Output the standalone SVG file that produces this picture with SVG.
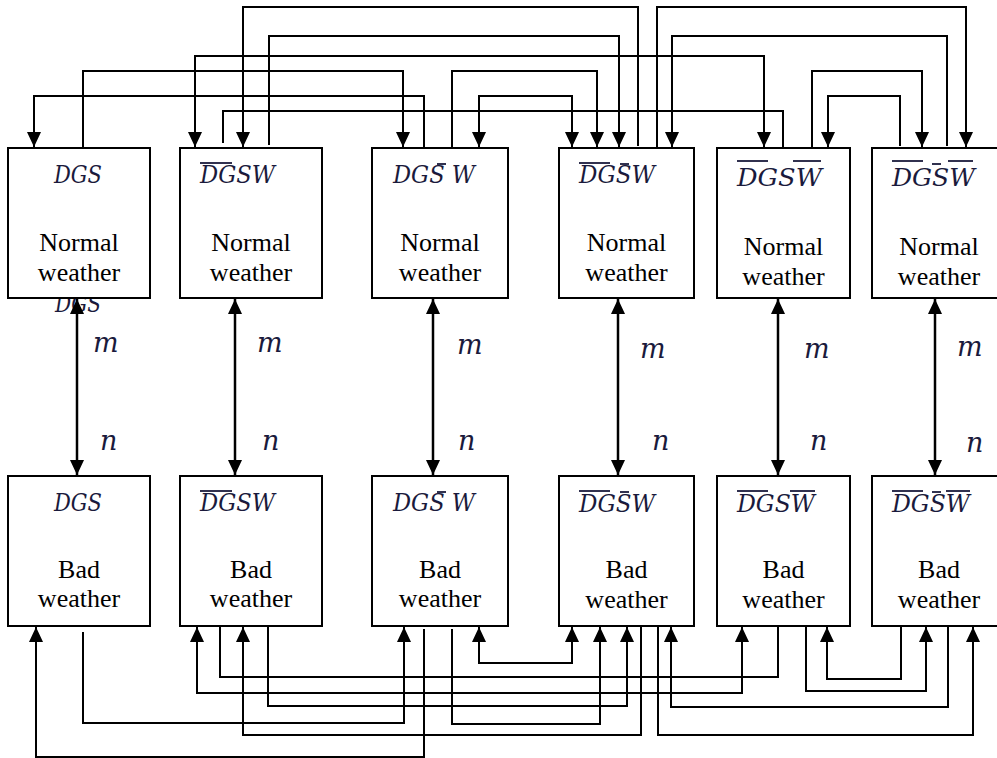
<svg xmlns="http://www.w3.org/2000/svg" width="997" height="758" viewBox="0 0 997 758">
<style>
.box{fill:#fff;stroke:#000;stroke-width:2}
.lbl{font-family:"Liberation Serif","Times New Roman",serif;font-size:26px;fill:#000;text-anchor:middle}
.math{font-family:"DejaVu Serif",serif;font-style:italic;font-size:24px;fill:#1a1a3c}
.mn{font-family:"DejaVu Serif",serif;font-style:italic;font-size:27px;fill:#1a1a3c}
.ov{stroke:#1a1a3c;stroke-width:1.8}
.c{fill:none;stroke:#000;stroke-width:2}
.v{fill:none;stroke:#000;stroke-width:2.5}
</style>
<defs>
<marker id="ah" viewBox="0 0 15 14" refX="15" refY="7" markerWidth="15" markerHeight="14" markerUnits="userSpaceOnUse" orient="auto-start-reverse">
<path d="M0,0 L15,7 L0,14 z" fill="#000"/>
</marker>
</defs>
<rect width="997" height="758" fill="#fff"/>
<text class="math" x="55" y="312" textLength="46" lengthAdjust="spacingAndGlyphs">DGS</text>
<g id="n1"><rect class="box" x="8" y="148" width="142" height="150"/>
<text class="math" x="54" y="183" textLength="48" lengthAdjust="spacingAndGlyphs">DGS</text>
<text class="lbl" x="79" y="251">Normal</text><text class="lbl" x="79" y="281">weather</text></g>
<g id="n2"><rect class="box" x="180" y="148" width="142" height="150"/>
<text class="math" x="200" y="183" textLength="75" lengthAdjust="spacingAndGlyphs">DGSW</text>
<line class="ov" x1="200" y1="163" x2="232" y2="163"/>
<text class="lbl" x="251" y="251">Normal</text><text class="lbl" x="251" y="281">weather</text></g>
<g id="n3"><rect class="box" x="372" y="148" width="136" height="150"/>
<text class="math" x="393" y="183" textLength="82" lengthAdjust="spacingAndGlyphs">DGS W</text>
<line class="ov" x1="437" y1="164" x2="446" y2="164"/>
<text class="lbl" x="440" y="251">Normal</text><text class="lbl" x="440" y="281">weather</text></g>
<g id="n4"><rect class="box" x="559" y="148" width="135" height="150"/>
<text class="math" x="579" y="183" textLength="76" lengthAdjust="spacingAndGlyphs">DGSW</text>
<line class="ov" x1="579" y1="163" x2="610" y2="163"/><line class="ov" x1="620" y1="164" x2="629" y2="164"/>
<text class="lbl" x="626.5" y="251">Normal</text><text class="lbl" x="626.5" y="281">weather</text></g>
<g id="n5"><rect class="box" x="717" y="148" width="133" height="150"/>
<text class="math" x="737" y="186" textLength="85" lengthAdjust="spacingAndGlyphs">DGSW</text>
<line class="ov" x1="737" y1="161" x2="768" y2="161"/><line class="ov" x1="793" y1="161" x2="821" y2="161"/>
<text class="lbl" x="783.5" y="255">Normal</text><text class="lbl" x="783.5" y="285">weather</text></g>
<g id="n6"><rect class="box" x="872" y="148" width="134" height="150"/>
<text class="math" x="892" y="186" textLength="83" lengthAdjust="spacingAndGlyphs">DGSW</text>
<line class="ov" x1="892" y1="161" x2="923" y2="161"/><line class="ov" x1="932" y1="164" x2="941" y2="164"/><line class="ov" x1="948" y1="161" x2="973" y2="161"/>
<text class="lbl" x="939" y="255">Normal</text><text class="lbl" x="939" y="285">weather</text></g>
<g id="b1"><rect class="box" x="8" y="476" width="142" height="150"/>
<text class="math" x="54" y="511" textLength="48" lengthAdjust="spacingAndGlyphs">DGS</text>
<text class="lbl" x="79" y="578">Bad</text><text class="lbl" x="79" y="607">weather</text></g>
<g id="b2"><rect class="box" x="180" y="476" width="142" height="150"/>
<text class="math" x="200" y="511" textLength="75" lengthAdjust="spacingAndGlyphs">DGSW</text>
<line class="ov" x1="200" y1="491" x2="232" y2="491"/>
<text class="lbl" x="251" y="578">Bad</text><text class="lbl" x="251" y="607">weather</text></g>
<g id="b3"><rect class="box" x="372" y="476" width="136" height="150"/>
<text class="math" x="393" y="511" textLength="82" lengthAdjust="spacingAndGlyphs">DGS W</text>
<line class="ov" x1="437" y1="492" x2="446" y2="492"/>
<text class="lbl" x="440" y="578">Bad</text><text class="lbl" x="440" y="607">weather</text></g>
<g id="b4"><rect class="box" x="559" y="476" width="135" height="150"/>
<text class="math" x="579" y="512" textLength="76" lengthAdjust="spacingAndGlyphs">DGSW</text>
<line class="ov" x1="579" y1="491" x2="610" y2="491"/><line class="ov" x1="620" y1="492" x2="629" y2="492"/>
<text class="lbl" x="626.5" y="578">Bad</text><text class="lbl" x="626.5" y="608">weather</text></g>
<g id="b5"><rect class="box" x="717" y="476" width="133" height="150"/>
<text class="math" x="737" y="512" textLength="78" lengthAdjust="spacingAndGlyphs">DGSW</text>
<line class="ov" x1="737" y1="491" x2="768" y2="491"/><line class="ov" x1="790" y1="491" x2="815" y2="491"/>
<text class="lbl" x="783.5" y="578">Bad</text><text class="lbl" x="783.5" y="608">weather</text></g>
<g id="b6"><rect class="box" x="872" y="476" width="134" height="150"/>
<text class="math" x="892" y="512" textLength="78" lengthAdjust="spacingAndGlyphs">DGSW</text>
<line class="ov" x1="892" y1="491" x2="923" y2="491"/><line class="ov" x1="932" y1="492" x2="941" y2="492"/><line class="ov" x1="946" y1="491" x2="970" y2="491"/>
<text class="lbl" x="939" y="578">Bad</text><text class="lbl" x="939" y="608">weather</text></g>
<g id="rates">
<text class="mn" x="93" y="352">m</text><text class="mn" x="257" y="352">m</text><text class="mn" x="457" y="354">m</text>
<text class="mn" x="640" y="358">m</text><text class="mn" x="804" y="358">m</text><text class="mn" x="957" y="356">m</text>
<text class="mn" x="100" y="450">n</text><text class="mn" x="262" y="450">n</text><text class="mn" x="458" y="450">n</text>
<text class="mn" x="652" y="450">n</text><text class="mn" x="810" y="450">n</text><text class="mn" x="966" y="452">n</text>
</g>
<g id="connectors">
<path class="v" d="M77,299V475" marker-start="url(#ah)" marker-end="url(#ah)"/>
<path class="v" d="M235,299V475" marker-start="url(#ah)" marker-end="url(#ah)"/>
<path class="v" d="M433,299V475" marker-start="url(#ah)" marker-end="url(#ah)"/>
<path class="v" d="M618,299V475" marker-start="url(#ah)" marker-end="url(#ah)"/>
<path class="v" d="M778,299V475" marker-start="url(#ah)" marker-end="url(#ah)"/>
<path class="v" d="M935,299V475" marker-start="url(#ah)" marker-end="url(#ah)"/>
<path class="c" d="M638,146V7H243V147" marker-end="url(#ah)"/>
<path class="c" d="M269,145V36H619V147" marker-end="url(#ah)"/>
<path class="c" d="M195,147V56H764V147" marker-start="url(#ah)" marker-end="url(#ah)"/>
<path class="c" d="M83,148V71H403V147" marker-end="url(#ah)"/>
<path class="c" d="M452,148V71H597V147" marker-end="url(#ah)"/>
<path class="c" d="M424,148V96H34V147" marker-end="url(#ah)"/>
<path class="c" d="M479,147V96H572V147" marker-start="url(#ah)" marker-end="url(#ah)"/>
<path class="c" d="M223,143V111H783V147"/>
<path class="c" d="M657,147V7H966V147" marker-end="url(#ah)"/>
<path class="c" d="M947,146V36H672V147" marker-end="url(#ah)"/>
<path class="c" d="M812,147V71H922V147" marker-end="url(#ah)"/>
<path class="c" d="M900,146V96H828V147" marker-end="url(#ah)"/>
<path class="c" d="M424,629V757H36V627" marker-end="url(#ah)"/>
<path class="c" d="M83,632V723H404V627" marker-end="url(#ah)"/>
<path class="c" d="M479,627V663H572V627" marker-start="url(#ah)" marker-end="url(#ah)"/>
<path class="c" d="M220,626V677H778V626"/>
<path class="c" d="M197,627V693H742V627" marker-start="url(#ah)" marker-end="url(#ah)"/>
<path class="c" d="M268,626V706H627V627" marker-end="url(#ah)"/>
<path class="c" d="M452,629V724H600V627" marker-end="url(#ah)"/>
<path class="c" d="M641,626V735H243V627" marker-end="url(#ah)"/>
<path class="c" d="M658,626V735H973V627" marker-end="url(#ah)"/>
<path class="c" d="M948,626V707H671V627" marker-end="url(#ah)"/>
<path class="c" d="M806,626V691H926V627" marker-end="url(#ah)"/>
<path class="c" d="M901,626V679H827V627" marker-end="url(#ah)"/>
</g>
</svg>
